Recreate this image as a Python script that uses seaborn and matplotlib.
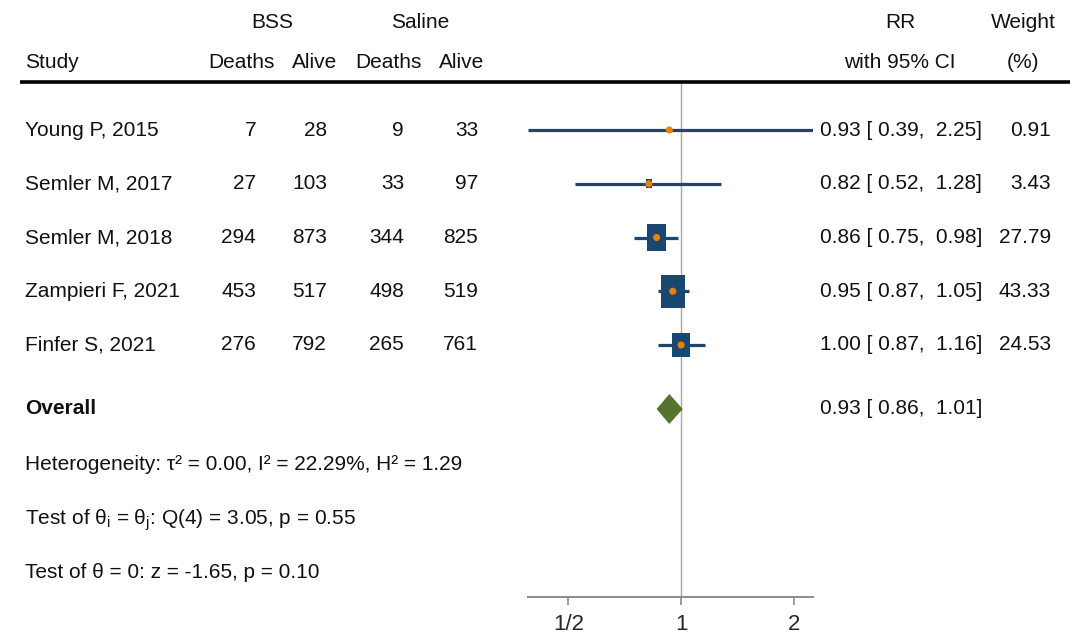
import numpy as np
import matplotlib
matplotlib.use("Agg")
import matplotlib.pyplot as plt
import seaborn as sns

# ==============================================================================
# DATA
# ==============================================================================
studies = ["Young P, 2015", "Semler M, 2017", "Semler M, 2018",
           "Zampieri F, 2021", "Finfer S, 2021"]
bss_deaths = [7, 27, 294, 453, 276]
bss_alive = [28, 103, 873, 517, 792]
sal_deaths = [9, 33, 344, 498, 265]
sal_alive = [33, 97, 825, 519, 761]
rr = [0.93, 0.82, 0.86, 0.95, 1.00]
rr_lo = [0.39, 0.52, 0.75, 0.87, 0.87]
rr_hi = [2.25, 1.28, 0.98, 1.05, 1.16]
weight = [0.91, 3.43, 27.79, 43.33, 24.53]

overall_rr = 0.93
overall_lo = 0.86
overall_hi = 1.01

tick_vals = [0.5, 1, 2]
tick_labels = ["1/2", "1", "2"]

# ==============================================================================
# STYLE
# ==============================================================================
NAVY = "#1a476f"
ORANGE = "#ef7d0a"
GREEN = "#55752f"
GRAY = "#8c8c8c"
FS = 15

sns.set_theme(style="white")
plt.rcParams["font.family"] = ["Liberation Sans", "DejaVu Sans"]
plt.rcParams["mathtext.fontset"] = "custom"
plt.rcParams["mathtext.rm"] = "Liberation Sans"
plt.rcParams["mathtext.it"] = "Liberation Sans"

W, H = 1073, 636
fig = plt.figure(figsize=(W / 100, H / 100), dpi=100)

# text layer in pixel coordinates
tx = fig.add_axes([0, 0, 1, 1])
tx.set_xlim(0, W)
tx.set_ylim(H, 0)
tx.axis("off")

# row layout (pixels)
row_y = 130 + 53.75 * np.arange(len(studies))
overall_y = 409
axis_bottom, axis_top = 597, 84

# forest panel
x_left, x_right = 528, 813
fx = fig.add_axes([x_left / W, 1 - axis_bottom / H,
                   (x_right - x_left) / W, (axis_bottom - axis_top) / H])
fx.set_xscale("log", base=2)
fx.set_xlim(min(rr_lo), max(rr_hi))
fx.set_ylim(axis_bottom, axis_top)
fx.patch.set_alpha(0)
for side in ["top", "left", "right"]:
    fx.spines[side].set_visible(False)
fx.spines["bottom"].set_color(GRAY)
fx.spines["bottom"].set_linewidth(1.4)
fx.set_yticks([])
fx.set_xticks(tick_vals)
fx.set_xticklabels(tick_labels)
fx.minorticks_off()
fx.tick_params(axis="x", bottom=True, length=6, width=1.2, color=GRAY,
               labelsize=FS + 1, pad=6)

fx.axvline(1, color="#a8a8a8", lw=1.0, zorder=1)

# confidence intervals
fx.hlines(row_y, rr_lo, rr_hi, color=NAVY, lw=2.3, zorder=2)

# weighted boxes (area proportional to weight, slightly tall as in original)
box = [(-0.36, -0.5), (0.36, -0.5), (0.36, 0.5), (-0.36, 0.5), (-0.36, -0.5)]
sns.scatterplot(x=rr, y=row_y, size=weight, sizes=(0, 560),
                size_norm=(0, max(weight)), marker=box, color=NAVY,
                edgecolor="none", linewidth=0, legend=False, ax=fx, zorder=3)
sns.scatterplot(x=rr, y=row_y, s=26, color=ORANGE, edgecolor="none",
                linewidth=0, legend=False, ax=fx, zorder=4)

# overall diamond
half_h = 15
fx.fill([overall_lo, overall_rr, overall_hi, overall_rr],
        [overall_y, overall_y - half_h, overall_y, overall_y + half_h],
        color=GREEN, lw=0, zorder=3)
fx.set_xlabel("")
fx.set_ylabel("")

# ==============================================================================
# TEXT COLUMNS
# ==============================================================================
kw = dict(fontsize=FS, color="#111111", va="center")

# headers
tx.text(272, 22, "BSS", ha="center", **kw)
tx.text(420, 22, "Saline", ha="center", **kw)
tx.text(900, 22, "RR", ha="center", **kw)
tx.text(1023, 22, "Weight", ha="center", **kw)
tx.text(25, 62, "Study", ha="left", **kw)
tx.text(241, 62, "Deaths", ha="center", **kw)
tx.text(315, 62, "Alive", ha="center", **kw)
tx.text(388, 62, "Deaths", ha="center", **kw)
tx.text(462, 62, "Alive", ha="center", **kw)
tx.text(900, 62, "with 95% CI", ha="center", **kw)
tx.text(1023, 62, "(%)", ha="center", **kw)
tx.plot([20, 1070], [82, 82], color="black", lw=2.6, solid_capstyle="butt")

for i, y in enumerate(row_y):
    tx.text(25, y, studies[i], ha="left", **kw)
    tx.text(256, y, f"{bss_deaths[i]}", ha="right", **kw)
    tx.text(327, y, f"{bss_alive[i]}", ha="right", **kw)
    tx.text(404, y, f"{sal_deaths[i]}", ha="right", **kw)
    tx.text(478, y, f"{sal_alive[i]}", ha="right", **kw)
    tx.text(820, y, f"{rr[i]:.2f} [ {rr_lo[i]:.2f},  {rr_hi[i]:.2f}]", ha="left", **kw)
    tx.text(1051, y, f"{weight[i]:.2f}", ha="right", **kw)

tx.text(25, overall_y, "Overall", ha="left", fontweight="bold", **kw)
tx.text(820, overall_y, f"{overall_rr:.2f} [ {overall_lo:.2f},  {overall_hi:.2f}]",
        ha="left", **kw)

tx.text(25, 464, "Heterogeneity: τ² = 0.00, I² = 22.29%, H² = 1.29", ha="left", **kw)
tx.text(25, 520, r"Test of θ$_\mathrm{i}$ = θ$_\mathrm{j}$: Q(4) = 3.05, p = 0.55",
        ha="left", **kw)
tx.text(25, 572, "Test of θ = 0: z = -1.65, p = 0.10", ha="left", **kw)

fig.savefig("out.png", dpi=100, facecolor="white")
